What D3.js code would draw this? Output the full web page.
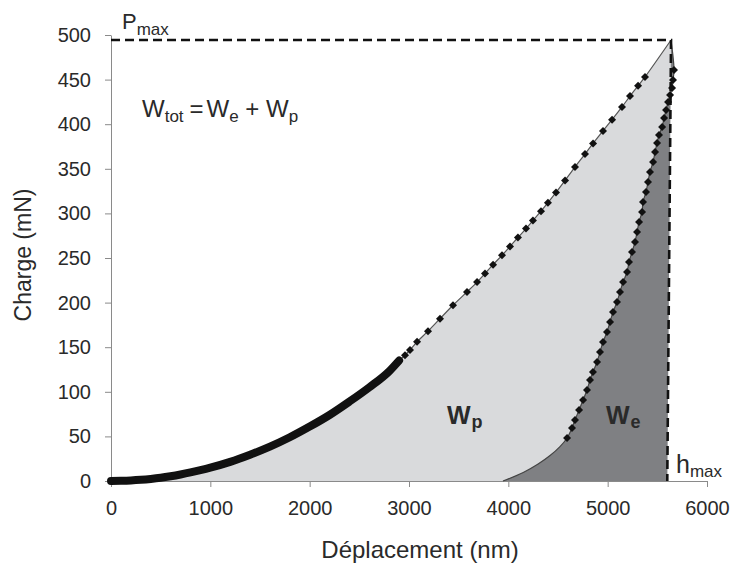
<!DOCTYPE html>
<html>
<head>
<meta charset="utf-8">
<script src="https://cdn.jsdelivr.net/npm/d3@7"></script>
<style>
  html, body { margin: 0; padding: 0; background: #fff; }
  svg { display: block; }
  text { font-family: "Liberation Sans", Arial, sans-serif; fill: #2a2a2a; }
</style>
</head>
<body>
<svg id="chart" width="731" height="574"></svg>
<script>
// ---------- data ----------
const xTicks = [0, 1000, 2000, 3000, 4000, 5000, 6000];
const yTicks = [0, 50, 100, 150, 200, 250, 300, 350, 400, 450, 500];

// dense part of the loading curve (nm, mN)
const loadDense = [
  [0, 0], [100, 0.2], [200, 0.6], [300, 1.3], [400, 2.3], [500, 3.6], [600, 5.3],
  [700, 7.3], [800, 9.6], [900, 12.2], [1000, 15], [1200, 21.5], [1400, 29.5],
  [1600, 38.5], [1800, 49], [2000, 61], [2200, 74], [2400, 89], [2600, 105],
  [2800, 123], [2900, 135]
];
// sparse part of the loading curve (nm, mN)
const loadSparse = [
  [2960, 141], [3010, 147], [3081, 156], [3191, 168], [3312, 182], [3443, 197],
  [3584, 212], [3685, 223], [3765, 232.5], [3846, 242.5], [3936, 253],
  [4017, 263], [4097, 273], [4178, 283], [4248, 292], [4329, 302.5],
  [4399, 312], [4480, 323.5], [4571, 337], [4671, 352], [4772, 366.5],
  [4853, 378.5], [4953, 392.5], [5044, 405], [5144, 419.3], [5225, 431.5],
  [5306, 443], [5376, 453]
];
const peak = [5638, 494.4];          // (hmax at peak, Pmax)
const pMax = 494.4;
const hMax = 5600;
// unloading curve markers (nm, mN)
const unloadPts = [
  [5668, 460.8], [5658, 449.6], [5648, 440.6], [5628, 432.7], [5608, 424.9],
  [5588, 415.9], [5568, 406.9], [5548, 396.9], [5517, 387.9], [5497, 378.9],
  [5477, 368.8], [5457, 357.6], [5426, 346.4], [5406, 335.2], [5386, 324],
  [5356, 312.8], [5346, 301.6], [5316, 290.4], [5296, 279.1], [5275, 267.9],
  [5245, 256.7], [5215, 245.5], [5195, 234.3], [5155, 223.1], [5124, 211.9],
  [5094, 200.7], [5054, 189.5], [5024, 178.3], [4993, 167], [4953, 155.8],
  [4923, 144.6], [4893, 133.4], [4852, 122.2], [4822, 113.2], [4792, 102],
  [4752, 90.8], [4712, 79.6], [4671, 68.4], [4641, 59.4], [4591, 48.2]
];
// unloading tail without markers (nm, mN)
const unloadTail = [[4520, 38.5], [4420, 28.5], [4300, 19], [4150, 9.5], [3946, 0]];

// ---------- drawing ----------
const svg = d3.select("#chart");
const x = d3.scaleLinear().domain([0, 6000]).range([111, 707]);
const y = d3.scaleLinear().domain([0, 500]).range([481, 35]);
const line = d3.line().x(d => x(d[0])).y(d => y(d[1]));
const smooth = d3.line().x(d => x(d[0])).y(d => y(d[1])).curve(d3.curveCatmullRom.alpha(0.5));

// Wp area (under loading curve)
const lightPoly = [[0, 0], ...loadDense.slice(1), ...loadSparse, peak];
svg.append("path").attr("d", smooth(lightPoly) + "L" + x(hMax) + "," + y(0) + "Z").attr("fill", "#d9dadc");

// We area (under unloading curve)
const unloadAll = [peak, ...unloadPts, ...unloadTail];
svg.append("path").attr("d", smooth(unloadAll) + "L" + x(hMax) + "," + y(0) + "Z").attr("fill", "#7f8083");

// axes
const xAxis = d3.axisBottom(x).tickValues(xTicks).tickFormat(d3.format("d"))
  .tickSize(6).tickSizeOuter(0).tickPadding(14);
const gx = svg.append("g").attr("transform", "translate(0,481)").call(xAxis);
gx.selectAll("text").attr("font-size", 20).attr("font-family", "Liberation Sans, Arial, sans-serif").attr("fill", "#2a2a2a");
const yAxis = d3.axisLeft(y).tickValues(yTicks).tickFormat(d3.format("d"))
  .tickSize(6).tickSizeOuter(0).tickPadding(14);
const gy = svg.append("g").attr("transform", "translate(111,0)").call(yAxis);
gy.selectAll("text").attr("font-size", 20).attr("font-family", "Liberation Sans, Arial, sans-serif").attr("fill", "#2a2a2a");
svg.selectAll(".domain, .tick line").attr("stroke", "#8a8a8a").attr("stroke-width", 1);

// loading curve: thin line + thick dense part + sparse markers
svg.append("path").attr("d", smooth([...loadDense, ...loadSparse, peak]))
  .attr("fill", "none").attr("stroke", "#555").attr("stroke-width", 1.2);
svg.append("path").attr("d", d3.line().x(d => x(d[0])).y(d => y(d[1])).curve(d3.curveMonotoneX)(loadDense))
  .attr("fill", "none").attr("stroke", "#111").attr("stroke-width", 8).attr("stroke-linecap", "round");

// unloading thin line
svg.append("path").attr("d", smooth(unloadAll))
  .attr("fill", "none").attr("stroke", "#444").attr("stroke-width", 1.2);

const diamond = "M0,-4L4,0L0,4L-4,0Z";
svg.append("g").selectAll("path").data([...loadSparse, ...unloadPts]).join("path")
  .attr("d", diamond)
  .attr("transform", d => `translate(${x(d[0])},${y(d[1])})`)
  .attr("fill", "#111");

// dashed guide lines (Pmax and hmax)
svg.append("path").attr("d", line([[0, pMax], peak, [hMax, 0]]))
  .attr("fill", "none").attr("stroke", "#111").attr("stroke-width", 2.6)
  .attr("stroke-dasharray", "9,5");

// axis titles
svg.append("text").attr("x", 420).attr("y", 558).attr("text-anchor", "middle")
  .attr("font-size", 24).text("Déplacement (nm)");
svg.append("text").attr("transform", "translate(31,255) rotate(-90)").attr("text-anchor", "middle")
  .attr("font-size", 23).text("Charge (mN)");

// Pmax
const tP = svg.append("text").attr("x", 122).attr("y", 29).attr("font-size", 22);
tP.append("tspan").text("P");
tP.append("tspan").attr("font-size", 17).attr("dy", 6).text("max");

// Wtot = We + Wp
const tW = svg.append("text").attr("x", 142).attr("y", 117).attr("font-size", 24);
tW.append("tspan").text("W");
tW.append("tspan").attr("font-size", 17).attr("dy", 5).text("tot");
tW.append("tspan").attr("dy", -5).attr("dx", 6).text("=");
tW.append("tspan").attr("dx", 3).text("W");
tW.append("tspan").attr("font-size", 17).attr("dy", 5).text("e");
tW.append("tspan").attr("dy", -5).text(" + W");
tW.append("tspan").attr("font-size", 17).attr("dy", 5).text("p");

// Wp and We labels
function wLabel(px, sub) {
  const t = svg.append("text").attr("x", px).attr("y", 424)
    .attr("font-family", "Open Sans, sans-serif").attr("font-weight", "bold")
    .attr("font-size", 25).attr("fill", "#1e1e1e");
  t.append("tspan").text("W");
  t.append("tspan").attr("font-size", 18).attr("dy", 4).attr("dx", 1).text(sub);
}
wLabel(447, "p");
wLabel(606, "e");

// hmax
const tH = svg.append("text").attr("x", 676).attr("y", 473)
  .attr("font-family", "Open Sans, sans-serif").attr("font-size", 25).attr("fill", "#1e1e1e");
tH.append("tspan").text("h");
tH.append("tspan").attr("font-size", 17).attr("dy", 4).attr("font-family", "Liberation Sans, Arial, sans-serif").text("max");
</script>
</body>
</html>
